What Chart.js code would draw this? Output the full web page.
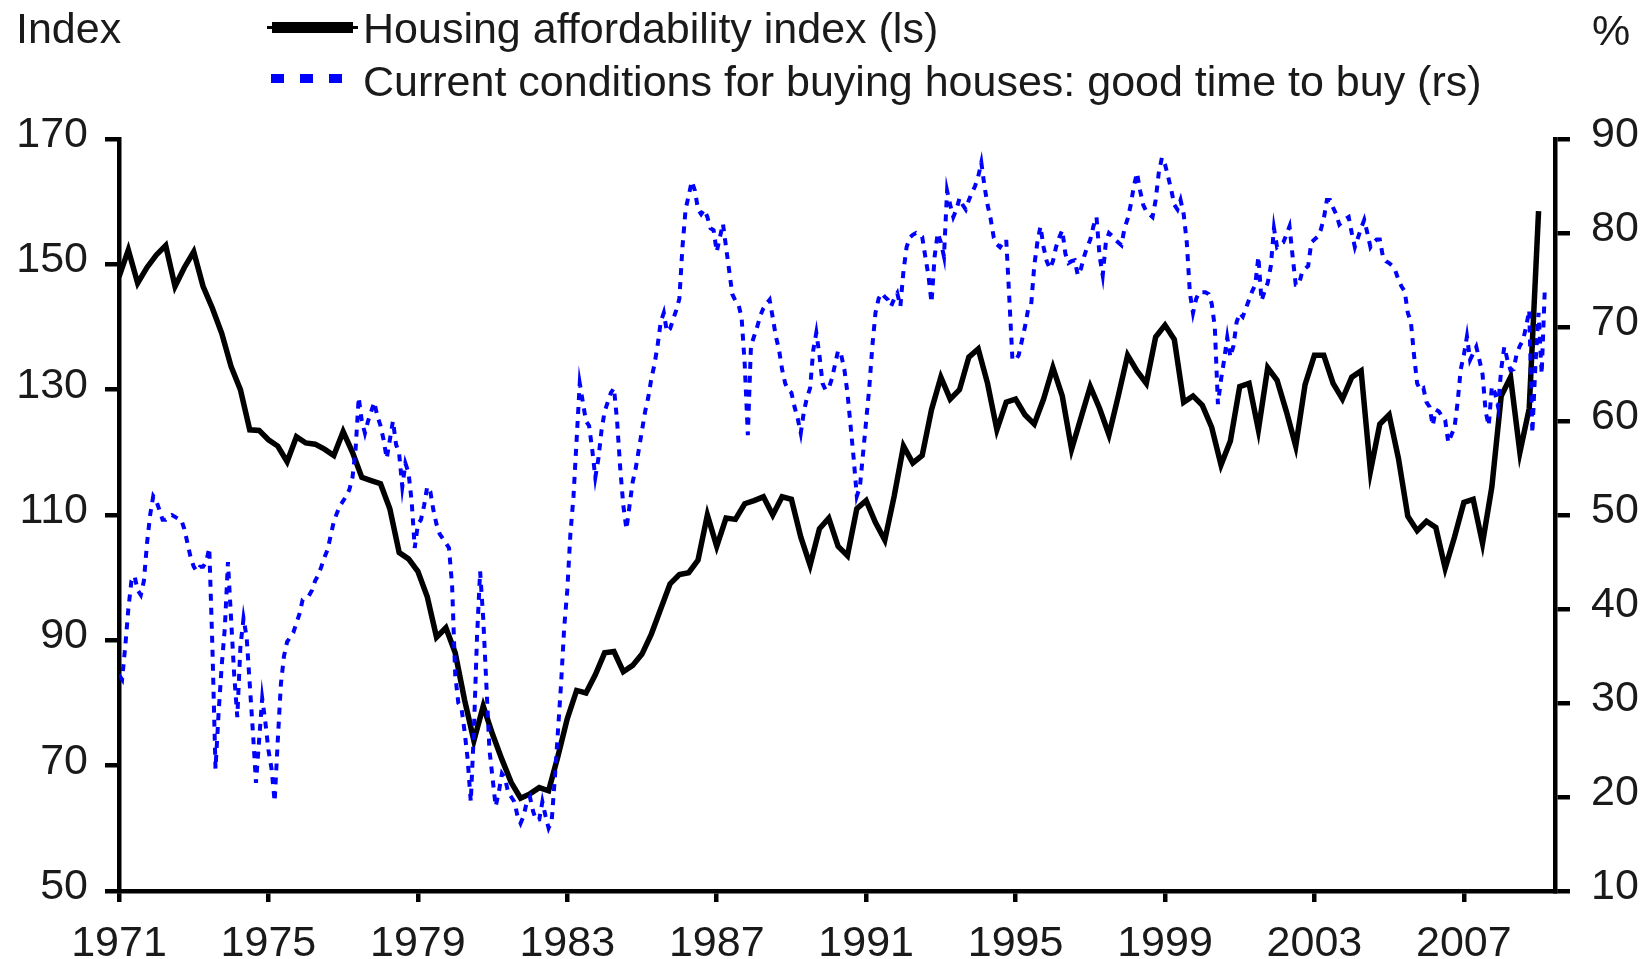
<!DOCTYPE html>
<html>
<head>
<meta charset="utf-8">
<script src="https://cdn.jsdelivr.net/npm/chart.js@4.4.1/dist/chart.umd.min.js"></script>
<style>
  html, body { margin: 0; padding: 0; background: #fff; }
  #wrap { width: 1648px; height: 959px; }
</style>
</head>
<body>
<div id="wrap"><canvas id="grafico" width="1648" height="959"></canvas></div>
<script>
// x axis tick years
const yearTicks = [1971, 1975, 1979, 1983, 1987, 1991, 1995, 1999, 2003, 2007];

// Housing affordability index (ls), quarterly from 1971 Q1
const affordability = [
  148, 152.3, 147, 149.5,
  151.5, 153, 146.5, 149.5,
  152, 146.5, 143, 139,
  133.7, 130, 123.6, 123.5,
  122, 121, 118.5, 122.5,
  121.5, 121.3, 120.5, 119.5,
  123.3, 120, 116, 115.5,
  115, 111, 104, 103,
  101, 97, 90.5, 92,
  88, 80.5, 74, 79.5,
  75, 71, 67.3, 64.8,
  65.5, 66.5, 66, 71.5,
  77.5, 82, 81.6, 84.5,
  88, 88.2, 85, 86,
  87.8, 91, 95, 99,
  100.5, 100.8, 102.8, 110,
  105, 109.5, 109.3, 111.8,
  112.3, 112.9, 110, 112.9,
  112.5, 106.5, 102, 107.8,
  109.5, 105, 103.5, 111,
  112.3, 108.8, 106, 113,
  121, 118.3, 119.5, 126.8,
  132, 128.5, 130, 135.2,
  136.5, 131, 123.6, 128,
  128.5, 126, 124.5, 128.5,
  133.5, 129, 120.5, 125.5,
  130.5, 127, 122.8, 129,
  135.5, 133, 131, 138.4,
  140.3, 138, 128, 129,
  127.5, 124, 118, 121.8,
  130.5, 131, 123.6, 133.5,
  131.5, 126.5, 121, 130.8,
  135.5, 135.5, 131, 128.5,
  132, 133, 117, 124.5,
  126, 119, 109.8, 107.5,
  109, 108, 101.5, 106.5,
  112, 112.5, 105.5, 114.5,
  129, 132, 120, 127,
  158.5
];

// Current conditions for buying houses: good time to buy (rs), monthly from Jan 1971
const goodTimeToBuy = [
  33, 32.5, 36, 40, 43, 43.5, 42, 41.5, 43, 47, 50, 52,
  51.5, 50.5, 49.5, 49.5, 49.8, 50, 49.8, 49.6, 49.5, 48.5, 47, 45.5,
  44.5, 44, 44.5, 44.5, 45, 46.5, 36, 23, 29, 34, 38, 45,
  39, 33, 28.5, 36, 39, 37, 32, 27, 21.5, 26, 30.5, 28,
  25, 23, 19.5, 26, 32, 35, 36.5, 37, 37.5, 38.5, 39.5, 41,
  41.2, 41.4, 42, 43, 43.6, 44.5, 45.5, 46.3, 47.8, 49.3, 50.2, 51,
  51.5, 52, 52.7, 54, 57, 62.5, 60, 58.7, 60, 61, 62, 60.5,
  59.5, 58, 56, 58, 60, 57.5, 56.5, 53, 55.5, 54.5, 51.5, 46.5,
  49, 49.5, 51, 53, 52.5, 50.5, 49, 48, 47.5, 47, 46.5, 42.5,
  33, 30, 29.5, 27, 24, 19.5, 27, 37, 44, 39, 32, 25,
  22, 19, 20.5, 22.5, 22, 20.5, 20, 19.5, 18, 17.2, 18, 19.5,
  20, 18.5, 17.5, 17.6, 19.5, 18, 16.7, 17.5, 22, 27, 32, 38,
  42, 48, 52, 58, 64, 62, 60, 59.5, 57, 54, 56, 59,
  61, 62, 63, 63.5, 60, 55, 51, 48.5, 51, 53.5, 55, 57,
  59, 61, 62.5, 64.5, 66, 68, 70.5, 71.5, 69.5, 69.8, 70.8, 71.8,
  73, 78.5, 82.5, 84, 85.5, 84.5, 82.5, 82, 82.5, 81.7, 80.5, 80.3,
  78, 79.5, 81, 78.5, 76, 73.5, 72.8, 72.4, 71, 66, 58.5, 68,
  69, 70, 71.2, 72, 72.5, 72.9, 71, 69, 67.6, 65.5, 64, 63.3,
  63, 61.5, 60.3, 58.7, 61, 62.5, 63.5, 67.5, 69.4, 67, 64, 63.3,
  63.5, 64.5, 66, 67.5, 67, 65.5, 63, 59.5, 56, 52, 53, 56.5,
  60, 63.5, 68, 71.5, 73, 73.6, 73.2, 72.9, 72.2, 73, 73.6, 72.2,
  76, 78.5, 79.5, 79.8, 80, 79.8, 79.6, 77.5, 75.5, 72.6, 77.5, 80,
  79, 77.5, 84.5, 83, 81.7, 82.5, 83.7, 83, 82.5, 83.5, 84.3, 85,
  86, 87.5, 85, 83, 81.5, 79.5, 78.8, 78.5, 79, 79.3, 73, 66.5,
  66.5, 67, 68.5, 70, 71.8, 72.3, 76.5, 79, 80.7, 78.5, 77, 76.2,
  77, 78.5, 79.5, 80.3, 77.8, 76.8, 77, 77.1, 75.5, 76.2, 77.5, 78.5,
  79.3, 80.7, 81.7, 77.5, 75.5, 79, 80, 79.7, 79.3, 79, 78.7, 80.5,
  81.5, 83, 85, 86.4, 84.5, 83, 82.3, 82, 81.7, 83.5, 86.4, 88,
  87.3, 86, 84.6, 83, 82.5, 83.5, 82, 79, 73.6, 71.5, 73, 73.7,
  73.7, 73.7, 73.5, 72.5, 70, 61.8, 64.4, 66.5, 68.9, 66.8, 68, 70.5,
  71.5, 71.1, 72, 72.9, 73.8, 74.5, 77.5, 72.8, 73.8, 74.7, 76.5, 80.5,
  78.5, 78.8, 79, 79.8, 80.7, 77.5, 74.5, 74.5, 75.8, 76.2, 76.5, 79,
  79.3, 79.6, 80.3, 81.5, 83.5, 83.5, 82.7, 82, 80.9, 81.2, 81.5, 81.7,
  80, 78.5, 79.5, 80.5, 81.4, 80, 78.5, 79, 79.3, 79.3, 77.5, 77,
  76.8, 76.5, 76, 75, 74.3, 73.8, 71.5, 70.5, 67, 64, 63.3, 63.5,
  62, 61.5, 59.5, 61.2, 61, 60.5, 60.1, 57.7, 58.5, 59.3, 62, 65.5,
  67, 69, 66.5, 67.2, 67.9, 66.5, 65, 61, 59.5, 63.7, 63, 61.5,
  65.5, 67.9, 66.5, 65.4, 65.5, 67.2, 68, 68.6, 70, 71.8, 58.7, 66,
  71.5, 65, 74
];

const legendLabels = ['Housing affordability index (ls)', 'Current conditions for buying houses: good time to buy (rs)'];
const axisTitles = ['Index', '%'];

const fonte = '"Liberation Sans", Arial, sans-serif';
const corTexto = '#1a1a1a';

const serieTrimestral = affordability.map((v, i) => ({ x: 1971 + i / 4, y: v }));
const serieMensal = goodTimeToBuy.map((v, i) => ({ x: 1971 + i / 12, y: v }));

// legend and axis titles drawn by hand, the chart has them above the plot
const legendaManual = {
    id: 'legendaManual',
    afterDraw(chart) {
        const ctx = chart.ctx;
        ctx.save();
        ctx.font = '43px ' + fonte;
        ctx.fillStyle = corTexto;
        ctx.textBaseline = 'alphabetic';
        ctx.fillText(axisTitles[0], 16, 43);
        ctx.fillText(axisTitles[1], 1592, 45);

        ctx.strokeStyle = '#000';
        ctx.lineWidth = 3;
        ctx.beginPath(); ctx.moveTo(267, 27.5); ctx.lineTo(358, 27.5); ctx.stroke();
        ctx.lineWidth = 11;
        ctx.beginPath(); ctx.moveTo(272, 27.5); ctx.lineTo(353, 27.5); ctx.stroke();
        ctx.fillText(legendLabels[0], 363, 43);

        ctx.strokeStyle = '#0000ff';
        ctx.lineWidth = 9;
        ctx.setLineDash([13, 16]);
        ctx.beginPath(); ctx.moveTo(271, 78.5); ctx.lineTo(342, 78.5); ctx.stroke();
        ctx.setLineDash([]);
        ctx.fillText(legendLabels[1], 363, 96);
        ctx.restore();
    }
};

const eixoGrid = (len) => ({
    drawOnChartArea: false,
    drawTicks: true,
    tickLength: len,
    lineWidth: 4.5,
    color: '#000'
});
const eixoBorda = { display: true, width: 4.5, color: '#000' };
const fonteTicks = { family: fonte, size: 43 };

new Chart(document.getElementById('grafico'), {
    type: 'line',
    data: {
        datasets: [{
            label: legendLabels[1],
            data: serieMensal,
            yAxisID: 'yR',
            borderColor: '#0000ff',
            borderWidth: 4,
            borderDash: [7, 7],
            pointRadius: 0,
            fill: false,
            order: 0
        }, {
            label: legendLabels[0],
            data: serieTrimestral,
            yAxisID: 'yL',
            borderColor: '#000000',
            borderWidth: 5.5,
            pointRadius: 0,
            fill: false,
            order: 1
        }]
    },
    options: {
        responsive: false,
        animation: false,
        layout: { padding: { top: 139, left: 0, right: 0, bottom: 0 } },
        plugins: {
            legend: { display: false },
            tooltip: { enabled: false }
        },
        scales: {
            x: {
                type: 'linear',
                position: 'bottom',
                min: 1971,
                max: 2009.44,
                afterBuildTicks: s => { s.ticks = yearTicks.map(v => ({ value: v })); },
                afterFit: s => { s.height = 68; },
                ticks: {
                    font: fonteTicks,
                    color: corTexto,
                    padding: 16,
                    maxRotation: 0,
                    autoSkip: false,
                    callback: v => String(v)
                },
                grid: eixoGrid(11),
                border: eixoBorda
            },
            yL: {
                type: 'linear',
                position: 'left',
                min: 50,
                max: 170,
                afterFit: s => { s.width = 119; },
                ticks: {
                    stepSize: 20,
                    font: fonteTicks,
                    color: corTexto,
                    padding: 17,
                    labelOffset: -4
                },
                grid: eixoGrid(14),
                border: eixoBorda
            },
            yR: {
                type: 'linear',
                position: 'right',
                min: 10,
                max: 90,
                afterFit: s => { s.width = 93; },
                ticks: {
                    stepSize: 10,
                    font: fonteTicks,
                    color: corTexto,
                    padding: 21,
                    labelOffset: -4
                },
                grid: eixoGrid(15),
                border: eixoBorda
            }
        }
    },
    plugins: [legendaManual]
});
</script>
</body>
</html>
